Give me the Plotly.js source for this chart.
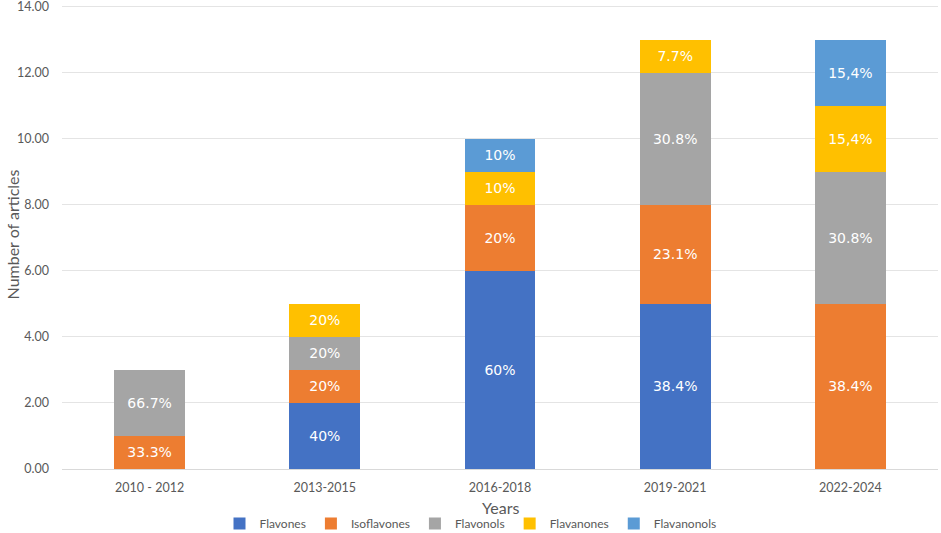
<!DOCTYPE html>
<html>
<head>
<meta charset="utf-8">
<script src="https://cdn.plot.ly/plotly-3.0.1.min.js"></script>
<style>
  html, body { margin: 0; padding: 0; background: #fff; }
  #chart { width: 941px; height: 533px; }
</style>
</head>
<body>
<div id="chart"></div>
<script>
/* articles per period, stacked by flavonoid subclass */
var PERIODS = ["2010 - 2012", "2013-2015", "2016-2018", "2019-2021", "2022-2024"];

var FLAVONES    = [0, 2, 6, 5, 0];
var ISOFLAVONES = [1, 1, 2, 3, 5];
var FLAVONOLS   = [2, 1, 0, 4, 4];
var FLAVANONES  = [0, 1, 1, 1, 2];
var FLAVANONOLS = [0, 0, 1, 0, 2];

// segment labels as printed on the chart
var FLAVONES_LBL    = ["", "40%", "60%", "38.4%", ""];
var ISOFLAVONES_LBL = ["33.3%", "20%", "20%", "23.1%", "38.4%"];
var FLAVONOLS_LBL   = ["66.7%", "20%", "", "30.8%", "30.8%"];
var FLAVANONES_LBL  = ["", "20%", "10%", "7.7%", "15,4%"];
var FLAVANONOLS_LBL = ["", "", "10%", "", "15,4%"];

var AXIS_TICKS = [0, 2, 4, 6, 8, 10, 12, 14];

var FONT = "Lato, 'Open Sans', sans-serif";
var LABEL_FONT = "'DejaVu Sans', sans-serif";
var GREY = "#595959";

function series(name, values, labels, color) {
  return {
    type: "bar", name: name, x: PERIODS, y: values,
    text: labels, textposition: "inside", insidetextanchor: "middle",
    textfont: { family: LABEL_FONT, size: 14, color: "#ffffff" },
    constraintext: "none",
    marker: { color: color, line: { width: 0 } },
    hoverinfo: "name+y"
  };
}

var traces = [
  series("Flavones", FLAVONES, FLAVONES_LBL, "#4472C4"),
  series("Isoflavones", ISOFLAVONES, ISOFLAVONES_LBL, "#ED7D31"),
  series("Flavonols", FLAVONOLS, FLAVONOLS_LBL, "#A5A5A5"),
  series("Flavanones", FLAVANONES, FLAVANONES_LBL, "#FFC000"),
  series("Flavanonols", FLAVANONOLS, FLAVANONOLS_LBL, "#5B9BD5")
];

var layout = {
  width: 941, height: 533,
  barmode: "stack", bargap: 0.595,
  paper_bgcolor: "#ffffff", plot_bgcolor: "#ffffff",
  font: { family: FONT, color: GREY, size: 12 },
  margin: { t: 0, r: 3, b: 64, l: 62, autoexpand: false },
  xaxis: {
    type: "category", showline: true, linecolor: "#D9D9D9", linewidth: 1,
    automargin: false,
    ticks: "", ticklabelstandoff: 7, tickfont: { size: 12.5, color: GREY }
  },
  yaxis: {
    range: [0, 14.2], tickvals: AXIS_TICKS,
    automargin: false, ticklabeloverflow: "allow",
    tickformat: ".2f", tickfont: { size: 12.5, color: GREY },
    gridcolor: "#E4E4E4", zeroline: false, showline: false, ticks: "",
    ticklabelstandoff: 12,
    title: { text: "Number of articles", font: { size: 16, color: GREY } }
  },
  // x-axis title placed under the category labels
  annotations: [{
    text: "Years", xref: "paper", yref: "paper", x: 0.5, y: 0,
    yshift: -38, yanchor: "middle", showarrow: false,
    font: { family: FONT, size: 16, color: GREY }
  }],
  legend: {
    orientation: "h", x: 0.5, xanchor: "center", xref: "container",
    y: 0.018, yanchor: "middle", yref: "container",
    font: { size: 12, color: GREY }, traceorder: "normal",
    itemwidth: 30, tracegroupgap: 0
  },
  showlegend: true
};

Plotly.newPlot("chart", traces, layout, { displayModeBar: false, staticPlot: true });
</script>
</body>
</html>
